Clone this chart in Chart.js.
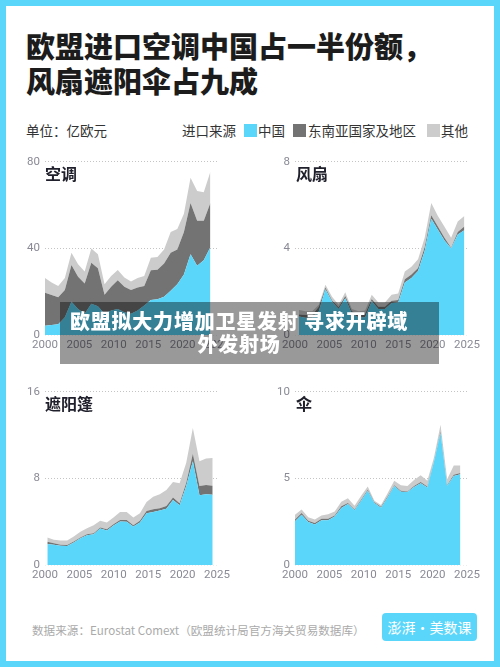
<!DOCTYPE html>
<html lang="zh">
<head>
<meta charset="utf-8">
<title>欧盟进口空调中国占一半份额</title>
<script src="https://cdn.jsdelivr.net/npm/chart.js@4"></script>
<style>
  html, body { margin: 0; padding: 0; background: #5bd6fb; }
  body { width: 500px; height: 667px; position: relative; overflow: hidden; font-family: 'Noto Sans CJK SC', sans-serif; }
  .sheet { position: absolute; left: 6px; top: 6px; width: 488px; height: 655px; background: #fff; }
  .abs { position: absolute; white-space: nowrap; }
  .title { left: 26px; top: 28px; font-size: 29px; line-height: 35px; font-weight: 900; color: #1c1c1c; }
  .note { font-size: 13.5px; line-height: 18px; color: #333; top: 121px; }
  .swatch { top: 124px; width: 13px; height: 13px; }
  .panel { position: absolute; width: 250px; height: 200px; }
  .name { font-size: 16px; line-height: 20px; font-weight: 700; color: #20202c; }
  .source { left: 32px; top: 621px; font-size: 11.6px; line-height: 18px; color: #aaa; }
  .logo { left: 382px; top: 613px; width: 95px; height: 28px; border-radius: 4px; background: #5bd6fb; color: #fff; font-size: 14px; line-height: 28px; text-align: center; }
  .banner { left: 60px; top: 302px; width: 379px; height: 62px; background: rgba(0, 0, 0, 0.4); color: #fff; font-size: 20px; line-height: 23px; font-weight: 900; letter-spacing: 0.8px; text-align: center; padding: 7px 21px 0 0; box-sizing: border-box; }
</style>
</head>
<body>
<div class="sheet"></div>
<div class="abs title">欧盟进口空调中国占一半份额，<br>风扇遮阳伞占九成</div>
<div class="abs note" style="left:26px">单位：亿欧元</div>
<div class="abs note" style="left:182px">进口来源</div>
<div class="abs swatch" style="left:244px;background:#5bd6fb"></div>
<div class="abs note" style="left:258px">中国</div>
<div class="abs swatch" style="left:293px;background:#737373"></div>
<div class="abs note" style="left:308px">东南亚国家及地区</div>
<div class="abs swatch" style="left:427px;background:#cccccc"></div>
<div class="abs note" style="left:441px">其他</div>

<div class="panel" style="left:0;top:150px"><canvas id="chart-ac"></canvas></div>
<div class="panel" style="left:250px;top:150px"><canvas id="chart-fan"></canvas></div>
<div class="panel" style="left:0;top:380px"><canvas id="chart-awning"></canvas></div>
<div class="panel" style="left:250px;top:380px"><canvas id="chart-umbrella"></canvas></div>

<div class="abs name" style="left:45px;top:163px">空调</div>
<div class="abs name" style="left:296px;top:163px">风扇</div>
<div class="abs name" style="left:45px;top:393px">遮阳篷</div>
<div class="abs name" style="left:296px;top:393px">伞</div>

<div class="abs source">数据来源：Eurostat Comext（欧盟统计局官方海关贸易数据库）</div>
<div class="abs logo">澎湃·美数课</div>
<div class="abs banner">欧盟拟大力增加卫星发射 寻求开辟域<br>外发射场</div>

<script>
  var years = [2000, 2001, 2002, 2003, 2004, 2005, 2006, 2007, 2008, 2009, 2010, 2011, 2012, 2013, 2014, 2015, 2016, 2017, 2018, 2019, 2020, 2021, 2022, 2023, 2024, 2025];

  var acChina = [4.3, 4.6, 5, 8.2, 15.4, 12, 9.8, 14.4, 13.3, 9.8, 11.3, 12, 10.5, 9.8, 11.3, 13.6, 16.2, 16.5, 17.7, 20.5, 23.5, 28, 37.3, 32, 34.5, 40.6];
  var acSea = [15.2, 13.9, 12.4, 12.6, 17, 14.9, 14, 19, 17.5, 8.8, 11, 13.3, 11.8, 11, 10.7, 9, 13.7, 13.7, 15.3, 17.5, 16, 19.6, 23.7, 20.8, 18.3, 20.4];
  var acOther = [6.8, 5.8, 5.3, 5.5, 5.6, 5.8, 5.5, 6.6, 6.5, 4.9, 5, 4.7, 4.3, 3.9, 4.3, 4.7, 5.8, 5.8, 6.5, 9.6, 9.5, 8.4, 11.7, 13.8, 13.2, 14.4];

  var fanChina = [0.85, 0.8, 0.8, 1.1, 2.12, 1.54, 1.2, 1.7, 0.98, 0.82, 0.82, 1.56, 1.2, 1.2, 1.48, 1.5, 2.43, 2.63, 2.96, 3.88, 5.37, 4.87, 4.37, 4, 4.64, 4.84];
  var fanSea = [0.1, 0.13, 0.13, 0.2, 0.08, 0.06, 0.08, 0.1, 0.12, 0.16, 0.16, 0.1, 0.1, 0.1, 0.1, 0.12, 0.15, 0.17, 0.14, 0.18, 0.16, 0.15, 0.13, 0.03, 0.12, 0.18];
  var fanOther = [0.2, 0.17, 0.17, 0.1, 0.12, 0.17, 0.12, 0.17, 0.1, 0.12, 0.15, 0.2, 0.2, 0.2, 0.28, 0.3, 0.35, 0.35, 0.4, 0.44, 0.57, 0.48, 0.5, 0.47, 0.49, 0.48];

  var awningChina = [1.93, 1.87, 1.78, 1.75, 2.09, 2.48, 2.76, 2.85, 3.37, 3.19, 3.65, 4.02, 3.99, 3.56, 3.93, 4.79, 4.91, 5.03, 5.21, 6.01, 5.52, 7.3, 9.6, 6.44, 6.53, 6.5];
  var awningSea = [0.22, 0.15, 0.09, 0.09, 0.09, 0.07, 0.09, 0.09, 0.1, 0.12, 0.12, 0.15, 0.18, 0.12, 0.15, 0.21, 0.24, 0.22, 0.25, 0.22, 0.18, 0.3, 0.68, 0.86, 0.86, 0.83];
  var awningOther = [0.4, 0.31, 0.4, 0.43, 0.46, 0.52, 0.55, 0.74, 0.61, 0.62, 0.62, 0.73, 0.73, 0.71, 0.71, 0.83, 1.17, 1.28, 1.47, 1.44, 1.85, 1.85, 2.39, 2.3, 2.46, 2.57];

  var umbrellaChina = [2.53, 2.9, 2.48, 2.34, 2.59, 2.59, 2.8, 3.3, 3.52, 3.16, 3.71, 4.29, 3.58, 3.31, 3.9, 4.57, 4.23, 4.21, 4.5, 4.72, 4.48, 5.96, 7.62, 4.57, 5.14, 5.24];
  var umbrellaSea = [0.1, 0.11, 0.07, 0.08, 0.08, 0.08, 0.06, 0.09, 0.06, 0.04, 0.06, 0.05, 0.04, 0.06, 0.06, 0.04, 0.06, 0.04, 0.07, 0.08, 0.05, 0.04, 0.09, 0.04, 0.08, 0.07];
  var umbrellaOther = [0.27, 0.19, 0.21, 0.21, 0.19, 0.26, 0.23, 0.27, 0.27, 0.23, 0.23, 0.19, 0.09, 0.1, 0.19, 0.25, 0.32, 0.32, 0.34, 0.38, 0.33, 0.19, 0.39, 0.34, 0.53, 0.44];

  var seriesNames = ['中国', '东南亚国家及地区', '其他'];
  var seriesColors = ['#5bd6fb', '#737373', '#cccccc'];
  var tickColor = '#8a8a96';

  function points(values) {
    return values.map(function (v, i) {
      return { x: years[i], y: v };
    });
  }

  // the areas sit on a slightly narrower year scale than the printed labels
  function stackedArea(id, china, sea, other, yMax, yStep, xMin) {
    new Chart(document.getElementById(id), {
      type: 'line',
      data: {
        datasets: [china, sea, other].map(function (values, i) {
          return {
            label: seriesNames[i],
            data: points(values),
            backgroundColor: seriesColors[i],
            borderWidth: 0,
            pointRadius: 0,
            tension: 0,
            fill: i === 0 ? 'origin' : '-1',
            xAxisID: 'x',
            yAxisID: 'y',
          };
        }),
      },
      options: {
        responsive: true,
        maintainAspectRatio: false,
        animation: false,
        layout: { padding: { top: 10, right: 33, left: 0, bottom: 0 } },
        plugins: { legend: { display: false }, tooltip: { enabled: false } },
        scales: {
          x: { type: 'linear', display: false, min: xMin, max: xMin + 26 },
          yearLabels: {
            type: 'linear',
            axis: 'x',
            position: 'bottom',
            min: 2000,
            max: 2025,
            grid: { display: false, drawTicks: false },
            border: { display: false },
            afterFit: function (scale) { scale.height = 15; },
            ticks: {
              stepSize: 5,
              padding: 3,
              maxRotation: 0,
              color: tickColor,
              font: { family: 'Roboto', size: 11.5 },
              callback: function (v) { return String(v); },
            },
          },
          y: {
            stacked: true,
            min: 0,
            max: yMax,
            afterFit: function (scale) { scale.width = 45; },
            border: { display: false, dash: [1, 2] },
            grid: {
              drawTicks: false,
              color: function (ctx) { return ctx.tick.value === 0 ? '#eeeeee' : '#c4c4c4'; },
              lineWidth: 1,
            },
            ticks: {
              stepSize: yStep,
              padding: 5,
              color: tickColor,
              font: { family: 'Roboto', size: 11.5 },
            },
          },
        },
      },
    });
  }

  stackedArea('chart-ac', acChina, acSea, acOther, 80, 40, 2000);
  stackedArea('chart-fan', fanChina, fanSea, fanOther, 8, 4, 1999.4);
  stackedArea('chart-awning', awningChina, awningSea, awningOther, 16, 8, 1999.65);
  stackedArea('chart-umbrella', umbrellaChina, umbrellaSea, umbrellaOther, 10, 5, 2000);
</script>
</body>
</html>
